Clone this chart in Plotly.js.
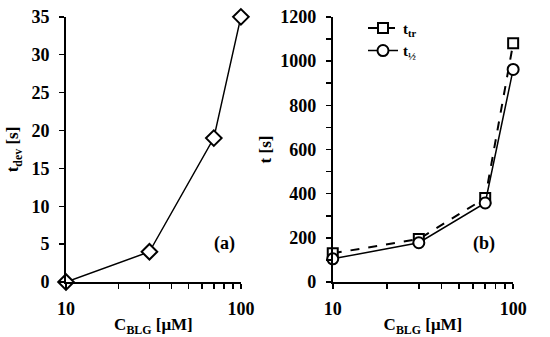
<!DOCTYPE html>
<html><head><meta charset="utf-8">
<script src="https://cdn.plot.ly/plotly-3.0.1.min.js"></script>
<style>html,body{margin:0;padding:0;background:#fff}#c{width:550px;height:337px}</style>
</head><body><div id="c"></div>
<script>
const conc = [10, 30, 70, 100];
const tDev = [0, 4, 19, 35];
const tTr = [130, 195, 380, 1080];
const tHalf = [105, 178, 358, 962];
const xTickVals = [10, 20, 30, 40, 50, 60, 70, 80, 90, 100];
const xTickText = ['10', '', '', '', '', '', '', '', '', '100'];
const yRightTickVals = [0,100,200,300,400,500,600,700,800,900,1000,1100,1200];
const yRightTickText = ['0','','200','','400','','600','','800','','1000','','1200'];

const F = 'Liberation Serif';
function fnt(s) { return {family: F, size: s, color: '#000', weight: 'bold'}; }

const traces = [
  {x: conc, y: tDev, xaxis: 'x', yaxis: 'y', mode: 'lines+markers', showlegend: false,
   line: {color: '#000', width: 1.5},
   marker: {symbol: 'diamond', size: 12, color: '#fff', line: {color: '#000', width: 2}},
   cliponaxis: false},
  {x: conc, y: tTr, xaxis: 'x2', yaxis: 'y2', mode: 'lines+markers', name: 't<sub>tr</sub>',
   line: {color: '#000', width: 2, dash: 'dash'},
   marker: {symbol: 'square', size: 10, color: '#fff', line: {color: '#000', width: 2}},
   cliponaxis: false},
  {x: conc, y: tHalf, xaxis: 'x2', yaxis: 'y2', mode: 'lines+markers', name: 't<sub>½</sub>',
   line: {color: '#000', width: 1.5},
   marker: {symbol: 'circle', size: 11, color: '#fff', line: {color: '#000', width: 2}},
   cliponaxis: false}
];

function xa(dom) {
  return {domain: dom, type: 'log', range: [1, 2], tickvals: xTickVals, ticktext: xTickText,
    ticks: 'outside', ticklen: 5, tickwidth: 1.5, tickcolor: '#000', showline: true,
    linecolor: '#000', linewidth: 2, showgrid: false, zeroline: false, tickfont: fnt(18),
    ticklabelstandoff: 4,
    title: {text: 'C<sub>BLG</sub> [μM]', font: fnt(17), standoff: 2}};
}
function ya(dom, anchor) {
  return {domain: dom, anchor: anchor, showline: true, linecolor: '#000', linewidth: 2,
    ticks: 'outside', ticklen: 5, tickwidth: 1.5, tickcolor: '#000', showgrid: false,
    zeroline: false, tickfont: fnt(18), ticklabelstandoff: 6};
}
const yd = [0.163, 0.95];
const yA = Object.assign(ya(yd, 'x'), {range: [0, 35], dtick: 5,
  title: {text: 't<sub>dev</sub> [s]', font: fnt(17), standoff: 8}});
const yB = Object.assign(ya(yd, 'x2'), {range: [0, 1200], tickvals: yRightTickVals, ticktext: yRightTickText,
  title: {text: 't [s]', font: fnt(17), standoff: 4}});

const layout = {
  width: 550, height: 337, margin: {l: 0, r: 0, t: 0, b: 0},
  paper_bgcolor: '#fff', plot_bgcolor: '#fff', font: fnt(17),
  xaxis: Object.assign(xa([0.12, 0.438]), {anchor: 'y'}),
  yaxis: yA,
  xaxis2: Object.assign(xa([0.605, 0.933]), {anchor: 'y2'}),
  yaxis2: yB,
  showlegend: true,
  legend: {x: 0.66, y: 0.965, xanchor: 'left', yanchor: 'top', bgcolor: 'rgba(0,0,0,0)',
    font: fnt(15), tracegroupgap: 0, itemwidth: 30},
  annotations: [
    {text: '(a)', xref: 'paper', yref: 'paper', x: 0.409, y: 0.24, showarrow: false, font: fnt(18)},
    {text: '(b)', xref: 'paper', yref: 'paper', x: 0.904, y: 0.24, showarrow: false, font: fnt(18)}
  ]
};
Plotly.newPlot('c', traces, layout, {staticPlot: true});
</script></body></html>
